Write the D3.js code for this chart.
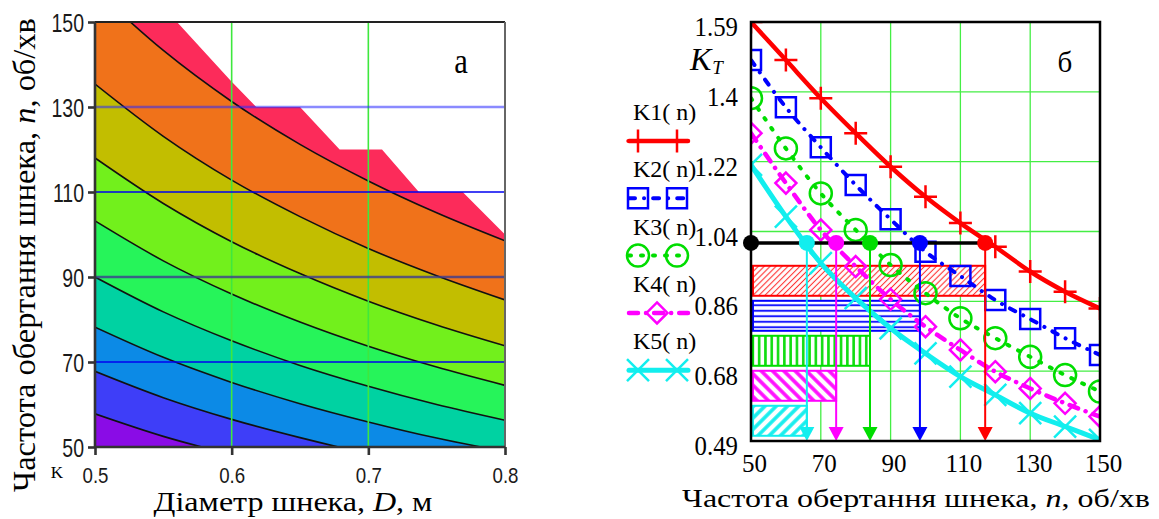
<!DOCTYPE html>
<html>
<head>
<meta charset="utf-8">
<script src="https://cdn.jsdelivr.net/npm/d3@7/dist/d3.min.js"></script>
<style>
  body { margin: 0; background: #fff; }
  svg { display: block; }
</style>
</head>
<body>
<div id="chart"></div>
<script>
// ---- panel a: contour lines, n (об/хв) read at each diameter D
const diameters = [0.5, 0.55, 0.6, 0.65, 0.7, 0.75, 0.8]
const contour1 = [157.6, 143.3, 131.3, 121.2, 112.6, 105.1, 98.5]
const contour2 = [135.4, 123.1, 112.8, 104.2, 96.7, 90.3, 84.6]
const contour3 = [118.0, 107.3, 98.3, 90.8, 84.3, 78.7, 73.8]
const contour4 = [103.2, 93.8, 86.0, 79.4, 73.7, 68.8, 64.5]
const contour5 = [90.0, 81.8, 75.0, 69.2, 64.3, 60.0, 56.3]
const contour6 = [78.2, 71.1, 65.2, 60.2, 55.9, 52.1, 48.9]
const contour7 = [67.8, 61.6, 56.5, 52.2, 48.4, 45.2, 42.4]
const contour8 = [57.8, 52.5, 48.2, 44.5, 41.3, 38.5, 36.1]
// border of the blank (undefined) region in the top right corner
const blankEdgeD = [0.56, 0.599, 0.618, 0.65, 0.679, 0.71, 0.737, 0.769, 0.8]
const blankEdgeN = [150, 136.3, 130, 130, 120, 120, 110, 110, 100]
const diamTicks = [0.5, 0.6, 0.7, 0.8]
const speedTicksA = [50, 70, 90, 110, 130, 150]
const diamGrid = [0.6, 0.7]
const speedGridA = [130, 110, 90, 70]

// ---- panel b: K(n) curves
const speed = [50, 60, 70, 80, 90, 100, 110, 120, 130, 140, 150]
const K1 = [1.590, 1.490, 1.390, 1.298, 1.210, 1.131, 1.062, 1.000, 0.935, 0.882, 0.838]
const K2 = [1.490, 1.366, 1.261, 1.162, 1.072, 0.987, 0.923, 0.860, 0.810, 0.760, 0.716]
const K3 = [1.390, 1.258, 1.140, 1.044, 0.952, 0.878, 0.812, 0.760, 0.711, 0.663, 0.620]
const K4 = [1.298, 1.167, 1.044, 0.948, 0.862, 0.790, 0.729, 0.672, 0.628, 0.589, 0.554]
const K5 = [1.215, 1.079, 0.957, 0.865, 0.786, 0.720, 0.659, 0.611, 0.563, 0.528, 0.493]
const seriesNames = ["K1( n)", "K2( n)", "K3( n)", "K4( n)", "K5( n)"]
const crossSpeed = [117.1, 98.4, 84.1, 74.4, 66]
const kLimit = 1.01
const kTicks = [0.49, 0.6733, 0.8567, 1.04, 1.2233, 1.4067, 1.59]
const kTickLabels = ["0.49", "0.68", "0.86", "1.04", "1.22", "1.4", "1.59"]
const speedTicksB = [50, 70, 90, 110, 130, 150]

const serif = "'Liberation Serif','Times New Roman',serif"
const sans = "'Liberation Sans',Arial,sans-serif"

const width = 1159, height = 519
const svg = d3.select("#chart").append("svg")
  .attr("width", width)
  .attr("height", height)
  .attr("viewBox", `0 0 ${width} ${height}`)
svg.append("rect").attr("width", width).attr("height", height).attr("fill", "#fff")
const defs = svg.append("defs")

// fits a text group to a measured width (the source figure uses stretched type)
const fitText = (g, text, targetWidth, transform) => {
  const w = text.node().getComputedTextLength()
  g.attr("transform", `${transform} scale(${targetWidth / w},1)`)
}

// ================= panel a =================
const xD = d3.scaleLinear().domain([0.5, 0.8]).range([95, 505])
const yN = d3.scaleLinear().domain([50, 150]).range([447, 22])

defs.append("clipPath").attr("id", "clipA")
  .append("rect")
    .attr("x", xD(0.5)).attr("y", yN(150))
    .attr("width", xD(0.8) - xD(0.5)).attr("height", yN(50) - yN(150))

const contours = [contour8, contour7, contour6, contour5, contour4, contour3, contour2, contour1]
const bandColors = ["#8a0ce6", "#3e3ef8", "#0c8ae6", "#00d2a2", "#26f45a",
  "#72f01c", "#c2be00", "#f0721a", "#fc2b5a"]

const bandArea = d3.area()
  .x((d, i) => xD(diameters[i]))
  .y0(d => d[0])
  .y1(d => d[1])
  .curve(d3.curveMonotoneX)

const contourLine = d3.line()
  .x((d, i) => xD(diameters[i]))
  .y(d => yN(d))
  .curve(d3.curveMonotoneX)

const plotA = svg.append("g").attr("clip-path", "url(#clipA)")

const bands = bandColors.map((c, i) => {
  const lower = i === 0 ? null : contours[i - 1]
  const upper = i === contours.length ? null : contours[i]
  return diameters.map((D, j) => [
    lower ? yN(lower[j]) : yN(50) + 5,
    upper ? yN(upper[j]) : yN(150) - 5
  ])
})

plotA.selectAll(".band")
  .data(bands)
  .join("path")
    .attr("class", "band")
    .attr("d", bandArea)
    .attr("fill", (d, i) => bandColors[i])
    .attr("stroke", (d, i) => bandColors[i])
    .attr("stroke-width", 0.5)

const blankPts = blankEdgeD.map((D, i) => [xD(D), yN(blankEdgeN[i])])
blankPts.push([xD(0.8) + 5, yN(150) - 5])
plotA.append("path")
  .attr("d", d3.line()(blankPts) + "Z")
  .attr("fill", "#fff")

plotA.selectAll(".contour")
  .data(contours)
  .join("path")
    .attr("class", "contour")
    .attr("d", contourLine)
    .attr("fill", "none")
    .attr("stroke", "#111")
    .attr("stroke-width", 1.6)

plotA.selectAll(".vgrid")
  .data(diamGrid)
  .join("line")
    .attr("x1", d => xD(d)).attr("x2", d => xD(d))
    .attr("y1", yN(150)).attr("y2", yN(50))
    .attr("stroke", "#3ee83e")
    .attr("stroke-width", 1.6)

plotA.selectAll(".hgrid")
  .data(speedGridA)
  .join("line")
    .attr("x1", xD(0.5)).attr("x2", xD(0.8))
    .attr("y1", d => yN(d)).attr("y2", d => yN(d))
    .attr("stroke", d => d === 130 ? "#2a2aff" : d === 90 ? "#3c3c90" : "#0000f0")
    .attr("stroke-opacity", d => d === 130 ? 0.55 : d === 90 ? 0.8 : 1)
    .attr("stroke-width", d => d === 130 || d === 90 ? 2.6 : 1.6)

// frame
svg.append("line").attr("x1", xD(0.5)).attr("x2", xD(0.8)).attr("y1", yN(150)).attr("y2", yN(150))
  .attr("stroke", "#222").attr("stroke-width", 2)
svg.append("line").attr("x1", xD(0.8)).attr("x2", xD(0.8)).attr("y1", yN(150)).attr("y2", yN(50))
  .attr("stroke", "#666").attr("stroke-width", 2)
svg.append("line").attr("x1", xD(0.5)).attr("x2", xD(0.5)).attr("y1", yN(150)).attr("y2", yN(50))
  .attr("stroke", "#333").attr("stroke-width", 2.6)
svg.append("line").attr("x1", xD(0.5)).attr("x2", xD(0.8)).attr("y1", yN(50)).attr("y2", yN(50))
  .attr("stroke", "#333").attr("stroke-width", 2.6)

const axAy = svg.append("g")
  .attr("transform", `translate(${xD(0.5)},0)`)
  .call(d3.axisLeft(yN).tickValues(speedTicksA).tickSize(7).tickFormat(d3.format("d")))
axAy.select(".domain").remove()
axAy.selectAll("line").attr("stroke", "#333").attr("stroke-width", 2.6)
axAy.selectAll("text")
  .attr("x", null).attr("dy", null)
  .attr("transform", "translate(-11,9) scale(0.78,1)")
  .attr("font-family", sans).attr("font-size", 25).attr("fill", "#1a1a1a")

const axAx = svg.append("g")
  .attr("transform", `translate(0,${yN(50)})`)
  .call(d3.axisBottom(xD).tickValues(diamTicks).tickSize(8).tickFormat(d3.format(".1f")))
axAx.select(".domain").remove()
axAx.selectAll("line").attr("stroke", "#333").attr("stroke-width", 2.6)
axAx.selectAll("text")
  .attr("y", null).attr("dy", null)
  .attr("transform", "translate(0,36) scale(0.85,1)")
  .attr("font-family", sans).attr("font-size", 22).attr("fill", "#1a1a1a")

svg.append("text")
  .attr("x", 57).attr("y", 478)
  .attr("text-anchor", "middle")
  .attr("font-family", serif).attr("font-size", 17)
  .text("K")

svg.append("text")
  .attr("transform", "translate(461,73) scale(0.85,1)")
  .attr("text-anchor", "middle")
  .attr("font-family", serif).attr("font-size", 36)
  .text("а")

const titleAx = svg.append("g")
const titleAxText = titleAx.append("text")
  .attr("text-anchor", "middle")
  .attr("font-family", serif).attr("font-size", 27)
titleAxText.append("tspan").text("Діаметр шнека, ")
titleAxText.append("tspan").attr("font-style", "italic").text("D")
titleAxText.append("tspan").text(", м")
fitText(titleAx, titleAxText, 279, "translate(293,511)")

const titleAy = svg.append("g")
const titleAyText = titleAy.append("text")
  .attr("text-anchor", "middle")
  .attr("font-family", serif).attr("font-size", 32)
titleAyText.append("tspan").text("Частота обертання шнека, ")
titleAyText.append("tspan").attr("font-style", "italic").text("n")
titleAyText.append("tspan").text(", об/хв")
fitText(titleAy, titleAyText, 474, "translate(35,255) rotate(-90)")

// ================= panel b =================
const xR = d3.scaleLinear().domain([50, 150]).range([751, 1100])
const yK = d3.scaleLinear().domain([0.49, 1.59]).range([441, 22])

defs.append("clipPath").attr("id", "clipB")
  .append("rect")
    .attr("x", xR(50)).attr("y", yK(1.59))
    .attr("width", xR(150) - xR(50)).attr("height", yK(0.49) - yK(1.59))

const seriesStyle = [
  { color: "#ff0000", width: 4.5, dash: null, marker: "plus" },
  { color: "#0000ff", width: 4, dash: "6,9,0.1,9", marker: "square" },
  { color: "#00dd00", width: 4, dash: "2,10", marker: "circle" },
  { color: "#ff00ff", width: 4.5, dash: "9,8,0.1,8", marker: "diamond" },
  { color: "#12eeee", width: 5, dash: null, marker: "cross" }
]
const seriesValues = [K1, K2, K3, K4, K5]

const markerPath = (type, x, y) => {
  if (type === "plus") return `M${x - 11.5},${y}H${x + 11.5}M${x},${y - 11.5}V${y + 11.5}`
  if (type === "square") return `M${x - 10},${y - 10}h20v20h-20Z`
  if (type === "circle") return `M${x - 11},${y}a11,11 0 1,0 22,0a11,11 0 1,0 -22,0Z`
  if (type === "diamond") return `M${x},${y - 10.5}L${x + 10.5},${y}L${x},${y + 10.5}L${x - 10.5},${y}Z`
  return `M${x - 11},${y - 11}L${x + 11},${y + 11}M${x - 11},${y + 11}L${x + 11},${y - 11}`
}

// grid
svg.append("g").selectAll("line")
  .data(speedTicksB.slice(1, -1))
  .join("line")
    .attr("x1", d => xR(d)).attr("x2", d => xR(d))
    .attr("y1", yK(1.59)).attr("y2", yK(0.49))
    .attr("stroke", "#44ee44").attr("stroke-width", 1.3)
svg.append("g").selectAll("line")
  .data(kTicks.slice(1, -1))
  .join("line")
    .attr("x1", xR(50)).attr("x2", xR(150))
    .attr("y1", d => yK(d)).attr("y2", d => yK(d))
    .attr("stroke", "#44ee44").attr("stroke-width", 1.3)

// hatch patterns for the bars
const hatch = (id, color, angle, spacing, w) => {
  const p = defs.append("pattern")
    .attr("id", id)
    .attr("patternUnits", "userSpaceOnUse")
    .attr("width", spacing).attr("height", spacing)
    .attr("patternTransform", `rotate(${angle})`)
  p.append("rect").attr("width", spacing).attr("height", spacing).attr("fill", "#fff")
  p.append("line")
    .attr("x1", spacing / 2).attr("x2", spacing / 2)
    .attr("y1", -1).attr("y2", spacing + 1)
    .attr("stroke", color).attr("stroke-width", w)
}
hatch("h0", "#ff3030", 45, 4.2, 1.1)
hatch("h1", "#1a1aff", 90, 5.5, 2)
hatch("h2", "#10dd10", 0, 6.3, 2.6)
hatch("h3", "#ff10ff", -45, 8, 3.6)
hatch("h4", "#18eeee", 45, 8, 3.6)

const plotB = svg.append("g").attr("clip-path", "url(#clipB)")

plotB.selectAll(".bar")
  .data(crossSpeed)
  .join("rect")
    .attr("class", "bar")
    .attr("x", xR(50) + 2)
    .attr("y", (d, i) => yK(0.95) + i * 35)
    .attr("width", d => xR(d) - xR(50) - 2)
    .attr("height", 30)
    .attr("fill", (d, i) => `url(#h${i})`)
    .attr("stroke", (d, i) => seriesStyle[i].color)
    .attr("stroke-width", 2)

const kLine = d3.line()
  .x((d, i) => xR(speed[i]))
  .y(d => yK(d))
  .curve(d3.curveMonotoneX)

seriesValues.forEach((vals, s) => {
  const st = seriesStyle[s]
  plotB.append("path")
    .attr("d", kLine(vals))
    .attr("fill", "none")
    .attr("stroke", st.color)
    .attr("stroke-width", st.width)
    .attr("stroke-linecap", "round")
    .attr("stroke-dasharray", st.dash)
  plotB.append("g").selectAll("path")
    .data(vals)
    .join("path")
      .attr("d", (d, i) => markerPath(st.marker, xR(speed[i]), yK(d)))
      .attr("fill", "none")
      .attr("stroke", st.color)
      .attr("stroke-width", 2.5)
})

// threshold line, arrows and crossing dots
svg.append("line")
  .attr("x1", xR(50)).attr("x2", xR(crossSpeed[0]))
  .attr("y1", yK(kLimit)).attr("y2", yK(kLimit))
  .attr("stroke", "#000").attr("stroke-width", 3.5)

const arrows = svg.append("g").selectAll("g")
  .data(crossSpeed)
  .join("g")
arrows.append("line")
  .attr("x1", d => xR(d)).attr("x2", d => xR(d))
  .attr("y1", yK(kLimit)).attr("y2", yK(0.49) - 8)
  .attr("stroke", (d, i) => seriesStyle[i].color)
  .attr("stroke-width", 2)
arrows.append("path")
  .attr("d", d => `M${xR(d) - 7.5},${yK(0.49) - 14}L${xR(d) + 7.5},${yK(0.49) - 14}L${xR(d)},${yK(0.49)}Z`)
  .attr("fill", (d, i) => seriesStyle[i].color)
arrows.append("circle")
  .attr("cx", d => xR(d)).attr("cy", yK(kLimit))
  .attr("r", 8)
  .attr("fill", (d, i) => seriesStyle[i].color)
svg.append("circle")
  .attr("cx", xR(50)).attr("cy", yK(kLimit)).attr("r", 8).attr("fill", "#000")

// frame
svg.append("rect")
  .attr("x", xR(50)).attr("y", yK(1.59))
  .attr("width", xR(150) - xR(50)).attr("height", yK(0.49) - yK(1.59))
  .attr("fill", "none").attr("stroke", "#000").attr("stroke-width", 2.5)

const axBy = svg.append("g")
  .attr("transform", `translate(${xR(50)},0)`)
  .call(d3.axisLeft(yK).tickValues(kTicks).tickSize(0).tickFormat((d, i) => kTickLabels[i]))
axBy.select(".domain").remove()
axBy.selectAll("text")
  .attr("x", null).attr("dy", null)
  .attr("transform", "translate(-13,13.5) scale(0.92,1)")
  .attr("font-family", serif).attr("font-size", 27).attr("fill", "#000")

const axBx = svg.append("g")
  .attr("transform", `translate(0,${yK(0.49)})`)
  .call(d3.axisBottom(xR).tickValues(speedTicksB).tickSize(0).tickFormat(d3.format("d")))
axBx.select(".domain").remove()
axBx.selectAll("text")
  .attr("y", 30.5).attr("dy", null).attr("dx", 3)
  .attr("font-family", serif).attr("font-size", 25).attr("fill", "#000")

const kTitle = svg.append("text")
  .attr("x", 690).attr("y", 70)
  .attr("font-family", serif).attr("font-style", "italic")
  .attr("font-size", 32)
kTitle.append("tspan").text("K")
kTitle.append("tspan").attr("font-size", 19).attr("dx", 1).attr("dy", 4).text("T")

svg.append("text")
  .attr("x", 1065).attr("y", 72)
  .attr("text-anchor", "middle")
  .attr("font-family", serif).attr("font-size", 29)
  .text("б")

// legend
const legendMarkerX = [[638, 677], [638, 677], [638, 677], [657], [638, 677]]
const legend = svg.append("g").selectAll("g")
  .data(seriesNames)
  .join("g")
    .attr("transform", (d, i) => `translate(0,${i * 57.3})`)
legend.append("text")
  .attr("x", 633).attr("y", 120)
  .attr("font-family", serif).attr("font-size", 24)
  .text(d => d)
legend.append("line")
  .attr("x1", 629).attr("x2", 688)
  .attr("y1", 141).attr("y2", 141)
  .attr("stroke", (d, i) => seriesStyle[i].color)
  .attr("stroke-width", (d, i) => seriesStyle[i].width)
  .attr("stroke-linecap", "round")
  .attr("stroke-dasharray", (d, i) => seriesStyle[i].dash)
legend.each(function (d, i) {
  d3.select(this).selectAll(".mk")
    .data(legendMarkerX[i])
    .join("path")
      .attr("d", x => markerPath(seriesStyle[i].marker, x, 141))
      .attr("fill", "none")
      .attr("stroke", seriesStyle[i].color)
      .attr("stroke-width", 2.5)
})

const titleBx = svg.append("g")
const titleBxText = titleBx.append("text")
  .attr("text-anchor", "middle")
  .attr("font-family", serif).attr("font-size", 26)
titleBxText.append("tspan").text("Частота обертання шнека, ")
titleBxText.append("tspan").attr("font-style", "italic").text("n")
titleBxText.append("tspan").text(", об/хв")
fitText(titleBx, titleBxText, 468, "translate(916,507)")
</script>
</body>
</html>
